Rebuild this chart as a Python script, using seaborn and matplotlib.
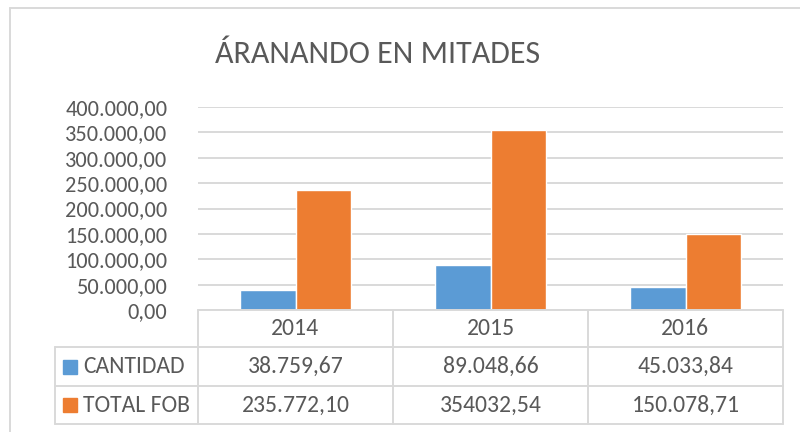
import matplotlib
matplotlib.use("Agg")
import matplotlib.pyplot as plt
import matplotlib.transforms as mtrans
from matplotlib.lines import Line2D
from matplotlib.patches import Rectangle
from matplotlib.ticker import FuncFormatter
import seaborn as sns
import pandas as pd

# ---- data ----
years = ["2014", "2015", "2016"]
series_names = ["CANTIDAD", "TOTAL FOB"]
cantidad = [38759.67, 89048.66, 45033.84]
total_fob = [235772.10, 354032.54, 150078.71]
cantidad_labels = ["38.759,67", "89.048,66", "45.033,84"]
total_fob_labels = ["235.772,10", "354032,54", "150.078,71"]
title = "ÁRANANDO EN MITADES"
colors = ["#5B9BD5", "#ED7D31"]

df = pd.DataFrame({
    "year": years * 2,
    "serie": [series_names[0]] * 3 + [series_names[1]] * 3,
    "value": cantidad + total_fob,
})

sns.set_theme(style="white")
plt.rcParams["font.family"] = ["Carlito", "Lato", "DejaVu Sans"]
txt = "#595959"
grid_c = "#D9D9D9"

W, H = 800, 432
fig = plt.figure(figsize=(8, 4.32), dpi=100)
fig.patch.set_facecolor("white")

def fx(px):
    return px / W

def fy(py):
    return 1 - py / H

ax = fig.add_axes([fx(198), fy(310), fx(783) - fx(198), fy(107) - fy(310)])
sns.barplot(data=df, x="year", y="value", hue="serie", palette=colors,
            width=0.574, gap=0, ax=ax, legend=False, saturation=1)
ax.set_ylim(0, 400000)
ax.set_xlim(-0.5, 2.5)
ax.set_yticks(range(0, 400001, 50000))
ax.yaxis.set_major_formatter(FuncFormatter(
    lambda v, p: f"{v:,.2f}".replace(",", "X").replace(".", ",").replace("X", ".")))
ax.tick_params(axis="y", labelsize=16, colors=txt, length=0, pad=22)
ax.set_xticks([])
ax.set_xlabel("")
ax.set_ylabel("")
ax.grid(axis="y", color=grid_c, linewidth=1.4)
ax.set_axisbelow(True)
for s in ax.spines.values():
    s.set_visible(False)

# chart border
fig.add_artist(Line2D([fx(10), fx(10)], [fy(8), 0], color=grid_c, lw=1.4, transform=fig.transFigure))
fig.add_artist(Line2D([fx(10), 1], [fy(8), fy(8)], color=grid_c, lw=1.4, transform=fig.transFigure))

fig.text(fx(215), fy(54), title, fontsize=23, color=txt, va="center", ha="left")

# data table below the axes
tr = mtrans.blended_transform_factory(ax.transData, fig.transFigure)
trf = fig.transFigure
row_y = [fy(310), fy(347), fy(386), fy(424)]
lw = 1.4
fig.add_artist(Line2D([-0.5, 2.5], [row_y[0]] * 2, color=grid_c, lw=lw, transform=tr))
for yv in row_y[1:]:
    fig.add_artist(Line2D([fx(55), fx(198)], [yv] * 2, color=grid_c, lw=lw, transform=trf))
    fig.add_artist(Line2D([-0.5, 2.5], [yv] * 2, color=grid_c, lw=lw, transform=tr))
for xv in [-0.5, 0.5, 1.5, 2.5]:
    fig.add_artist(Line2D([xv, xv], [row_y[0], row_y[3]], color=grid_c, lw=lw, transform=tr))
fig.add_artist(Line2D([fx(55), fx(55)], [row_y[1], row_y[3]], color=grid_c, lw=lw, transform=trf))

fs = 17
for i, yr in enumerate(years):
    fig.text(i, (row_y[0] + row_y[1]) / 2, yr, transform=tr, ha="center", va="center",
             fontsize=fs, color=txt)
    fig.text(i, (row_y[1] + row_y[2]) / 2, cantidad_labels[i], transform=tr, ha="center",
             va="center", fontsize=fs, color=txt)
    fig.text(i, (row_y[2] + row_y[3]) / 2, total_fob_labels[i], transform=tr, ha="center",
             va="center", fontsize=fs, color=txt)

for r, (name, col) in enumerate(zip(series_names, colors)):
    yc = (row_y[r + 1] + row_y[r + 2]) / 2
    fig.add_artist(Rectangle((fx(63), yc - 7 / H), 14 / W, 14 / H, color=col,
                             transform=trf))
    fig.text(fx(83), yc, name, fontsize=fs, color=txt, ha="left", va="center")

fig.savefig("out.png", dpi=100)
